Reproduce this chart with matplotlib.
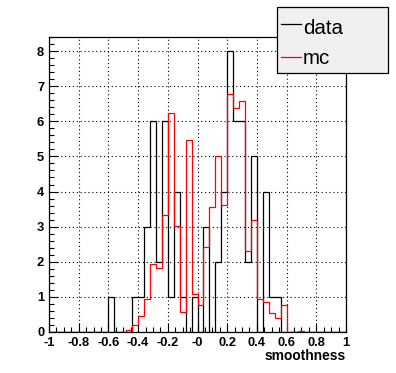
import numpy as np
import matplotlib.pyplot as plt
from matplotlib.patches import Rectangle
from matplotlib.lines import Line2D
from matplotlib.ticker import MultipleLocator

plt.rcParams['font.family'] = ['Liberation Sans', 'DejaVu Sans']

# 50 bins from -1 to 1
edges = np.linspace(-1, 1, 51)

data_counts = [0, 0, 0, 0, 0, 0, 0, 0, 0, 0,
               1, 0, 0, 0, 1, 1, 3, 6, 2, 6,
               1, 4, 1, 0, 1, 0, 3, 0, 2, 4,
               8, 6, 6, 2, 5, 0, 4, 1, 1, 0,
               0, 0, 0, 0, 0, 0, 0, 0, 0, 0]

mc_counts = [0, 0, 0, 0, 0, 0, 0, 0, 0, 0,
             0, 0, 0, 0.05, 0.19, 0.45, 0.92, 1.92, 1.81, 3.33,
             6.24, 3.03, 0.55, 5.47, 1.07, 0.76, 2.42, 3.56, 5.0, 3.61,
             6.79, 6.37, 6.57, 2.31, 3.18, 0.93, 0.84, 0.52, 0.38, 0.76,
             0, 0, 0.03, 0, 0, 0, 0, 0, 0, 0]

series_names = ['data', 'mc']
series_colors = ['black', 'red']
xticks = [-1, -0.8, -0.6, -0.4, -0.2, 0, 0.2, 0.4, 0.6, 0.8, 1]
xtick_labels = ['-1', '-0.8', '-0.6', '-0.4', '-0.2', '-0', '0.2', '0.4', '0.6', '0.8', '1']

W, H = 396, 373
fig = plt.figure(figsize=(W / 100, H / 100), dpi=100)
ax = fig.add_axes([49 / W, 1 - 331.7 / H, 297 / W, 294.4 / H])

ax.stairs(data_counts, edges, color=series_colors[0], lw=0.9, zorder=3)
ax.stairs(mc_counts, edges, color=series_colors[1], lw=0.9, zorder=4)

ax.set_xlim(-1, 1)
ax.set_ylim(0, 1.05 * max(max(data_counts), max(mc_counts)))

ax.set_xticks(xticks)
ax.set_xticklabels(xtick_labels)
ax.xaxis.set_minor_locator(MultipleLocator(0.05))
ax.yaxis.set_major_locator(MultipleLocator(1))
ax.yaxis.set_minor_locator(MultipleLocator(0.2))

ax.tick_params(which='both', direction='in', top=False, right=False,
               width=0.8, colors='black')
ax.tick_params(which='major', length=6.5, labelsize=9.3, pad=3.5)
ax.tick_params(which='minor', length=3.3)
for lab in ax.get_xticklabels() + ax.get_yticklabels():
    lab.set_fontweight('bold')

ax.grid(True, which='major', color='black', linestyle=(0, (1, 2.5)), lw=0.8, zorder=1)
ax.set_axisbelow(True)
for sp in ax.spines.values():
    sp.set_linewidth(0.9)

ax.set_xlabel('smoothness', fontsize=9.9, fontweight='bold', ha='right', va='top')
ax.xaxis.set_label_coords(1.0, -0.06)

# legend box, drawn in figure pixels
lx0, ly0, lx1, ly1 = 277.3, 7.3, 388.3, 73.3
fig.patches.append(Rectangle((lx0 / W, 1 - ly1 / H), (lx1 - lx0) / W, (ly1 - ly0) / H,
                             transform=fig.transFigure, facecolor='#f0f0f0',
                             edgecolor='black', lw=0.9, zorder=10))
for name, col, yline, ybase in zip(series_names, series_colors, [24, 57.3], [34.3, 64]):
    fig.lines.append(Line2D([281 / W, 301 / W], [1 - yline / H, 1 - yline / H],
                            transform=fig.transFigure, color=col, lw=0.9, zorder=11))
    fig.text(303 / W, 1 - ybase / H, name, fontsize=14.8, va='baseline', ha='left', zorder=11)

fig.savefig('out.png', dpi=100, facecolor='white')
